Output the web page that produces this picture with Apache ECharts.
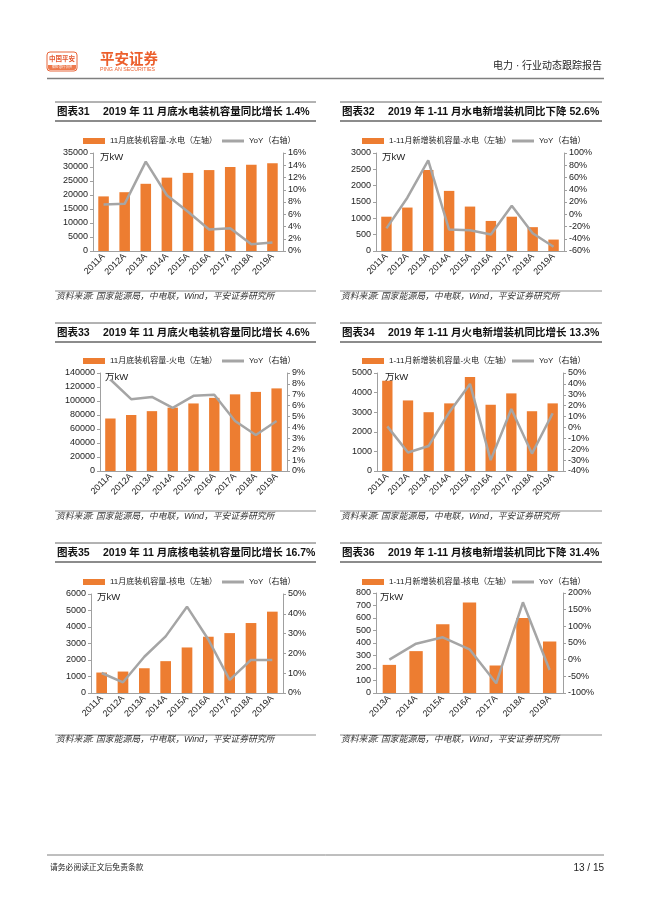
<!DOCTYPE html>
<html><head><meta charset="utf-8">
<script src="https://cdn.jsdelivr.net/npm/echarts@6/dist/echarts.min.js"></script>
<style>html,body{margin:0;padding:0;background:#fff;}#c{width:650px;height:919px;}</style>
</head><body><div id="c"></div>
<script>
// ---------- data ----------
const yearsA = ['2011A','2012A','2013A','2014A','2015A','2016A','2017A','2018A','2019A'];
const yearsB = ['2013A','2014A','2015A','2016A','2017A','2018A','2019A'];

const hydroCap    = [19500, 21000, 24000, 26200, 27900, 28900, 30000, 30800, 31300];
const hydroCapYoY = [7.6, 7.7, 14.6, 9.1, 6.4, 3.5, 3.7, 1.1, 1.4];
const hydroNew    = [1050, 1330, 2480, 1840, 1360, 920, 1050, 730, 350];
const hydroNewYoY = [-23, 27, 88, -25, -26, -33, 14, -31, -53];
const thermalCap    = [75000, 80000, 85500, 90500, 96500, 104500, 109500, 113000, 118000];
const thermalCapYoY = [8.4, 6.6, 6.8, 5.8, 6.9, 7.0, 4.6, 3.3, 4.6];
const thermalNew    = [4600, 3600, 3000, 3450, 4800, 3380, 3960, 3050, 3450];
const thermalNewYoY = [1, -23, -17, 14, 40, -30, 17, -24, 13];
const nuclearCap    = [1240, 1300, 1500, 1930, 2760, 3410, 3630, 4240, 4930];
const nuclearCapYoY = [10.1, 5.4, 18.3, 28.6, 43.6, 27, 6.6, 16.7, 16.7];
const nuclearNew    = [225, 335, 550, 725, 220, 600, 412];
const nuclearNewYoY = [0, 48, 67, 31, -71, 172, -31];

const lineName = 'YoY（右轴）';
const sourceText = '资料来源: 国家能源局，中电联，Wind，平安证券研究所';

// ---------- layout ----------
const FONT = '"Liberation Sans", Arial, "Noto Sans CJK SC", sans-serif';
const ORANGE = '#ED7D31', GREY = '#A5A5A5', AXIS = '#A0A0A0';

const rows = [
  {titleY:112, lineTop:102, lineBot:121, srcLine:291, srcText:297},
  {titleY:333, lineTop:323, lineBot:342, srcLine:511, srcText:517},
  {titleY:553, lineTop:543, lineBot:562, srcLine:735, srcText:740}
];
const cols = [
  {x1:55, x2:316, numX:57, titleX:103, legA:83, legB:222},
  {x1:340, x2:602, numX:342, titleX:388, legA:362, legB:512}
];

const panels = [
  {row:0, col:0, cats:yearsA, bar:hydroCap, line:hydroCapYoY, barName:'11月底装机容量-水电（左轴）',
   num:'图表31', title:'2019 年 11 月底水电装机容量同比增长 1.4%',
   grid:{left:93, top:153, width:190, height:98}, yL:[0,35000,5000], yR:[0,16,2], legY:137, unit:[100,157]},
  {row:0, col:1, cats:yearsA, bar:hydroNew, line:hydroNewYoY, barName:'1-11月新增装机容量-水电（左轴）',
   num:'图表32', title:'2019 年 1-11 月水电新增装机同比下降 52.6%',
   grid:{left:376, top:153, width:188, height:98}, yL:[0,3000,500], yR:[-60,100,20], legY:137, unit:[382,157]},
  {row:1, col:0, cats:yearsA, bar:thermalCap, line:thermalCapYoY, barName:'11月底装机容量-火电（左轴）',
   num:'图表33', title:'2019 年 11 月底火电装机容量同比增长 4.6%',
   grid:{left:100, top:373, width:187, height:98}, yL:[0,140000,20000], yR:[0,9,1], legY:357, unit:[105,377]},
  {row:1, col:1, cats:yearsA, bar:thermalNew, line:thermalNewYoY, barName:'1-11月新增装机容量-火电（左轴）',
   num:'图表34', title:'2019 年 1-11 月火电新增装机同比增长 13.3%',
   grid:{left:377, top:373, width:186, height:98}, yL:[0,5000,1000], yR:[-40,50,10], legY:357, unit:[385,377]},
  {row:2, col:0, cats:yearsA, bar:nuclearCap, line:nuclearCapYoY, barName:'11月底装机容量-核电（左轴）',
   num:'图表35', title:'2019 年 11 月底核电装机容量同比增长 16.7%',
   grid:{left:91, top:594, width:192, height:99}, yL:[0,6000,1000], yR:[0,50,10], legY:578, unit:[97,597]},
  {row:2, col:1, cats:yearsB, bar:nuclearNew, line:nuclearNewYoY, barName:'1-11月新增装机容量-核电（左轴）',
   num:'图表36', title:'2019 年 1-11 月核电新增装机同比下降 31.4%',
   grid:{left:376, top:593, width:187, height:100}, yL:[0,800,100], yR:[-100,200,50], legY:578, unit:[380,597]}
];

const grid = [], xAxis = [], yAxis = [], series = [], legend = [], graphic = [];

function txt(x, y, text, font, fill, align) {
  graphic.push({type:'text', silent:true, style:{x, y, text, font, fill, align: align||'left', verticalAlign:'middle'}});
}
function hline(x1, x2, y, stroke, w) {
  graphic.push({type:'line', silent:true, shape:{x1, y1:y, x2, y2:y}, style:{stroke, lineWidth:w}});
}

panels.forEach((p, i) => {
  const r = rows[p.row], c = cols[p.col];
  grid.push(Object.assign({containLabel:false}, p.grid));
  xAxis.push({type:'category', gridIndex:i, data:p.cats,
    axisLine:{show:true, lineStyle:{color:AXIS, width:1}}, axisTick:{show:false},
    axisLabel:{rotate:45, fontSize:9, color:'#222', fontFamily:FONT, margin:4, interval:0}});
  yAxis.push({type:'value', gridIndex:i, position:'left', min:p.yL[0], max:p.yL[1], interval:p.yL[2],
    splitLine:{show:false}, axisLine:{show:true, lineStyle:{color:AXIS}},
    axisTick:{show:true, length:3, lineStyle:{color:AXIS}},
    axisLabel:{fontSize:9, color:'#222', fontFamily:FONT, margin:5, formatter: v => String(v)}});
  yAxis.push({type:'value', gridIndex:i, position:'right', min:p.yR[0], max:p.yR[1], interval:p.yR[2],
    splitLine:{show:false}, axisLine:{show:true, lineStyle:{color:AXIS}},
    axisTick:{show:true, length:3, lineStyle:{color:AXIS}},
    axisLabel:{fontSize:9, color:'#222', fontFamily:FONT, margin:5, formatter: v => v + '%'}});
  series.push({type:'bar', name:p.barName, xAxisIndex:i, yAxisIndex:2*i, data:p.bar,
    barWidth:'50%', itemStyle:{color:ORANGE}, silent:true, animation:false});
  series.push({type:'line', name:lineName, xAxisIndex:i, yAxisIndex:2*i+1, data:p.line,
    symbol:'none', lineStyle:{color:GREY, width:2.5}, itemStyle:{color:GREY}, silent:true, animation:false});
  legend.push({data:[{name:p.barName, icon:'rect'}], left:c.legA, top:p.legY, padding:0, itemWidth:22, itemHeight:6,
    selectedMode:false, textStyle:{fontSize:8, color:'#222', fontFamily:FONT}});
  legend.push({data:[{name:lineName, icon:'rect', itemStyle:{color:GREY}}], left:c.legB, top:p.legY, padding:0,
    itemWidth:22, itemHeight:3, selectedMode:false, textStyle:{fontSize:8, color:'#222', fontFamily:FONT}});

  // title block
  hline(c.x1, c.x2, r.lineTop, '#666', 1);
  hline(c.x1, c.x2, r.lineBot, '#8c8c8c', 2);
  txt(c.numX, r.titleY, p.num, 'bold 10.5px ' + FONT, '#111');
  txt(c.titleX, r.titleY, p.title, 'bold 10.5px ' + FONT, '#111');
  // unit
  txt(p.unit[0], p.unit[1], '万kW', '9.5px ' + FONT, '#222');
  // source
  hline(c.x1, c.x2, r.srcLine, '#8c8c8c', 1);
  txt(c.x1 + 1, r.srcText, sourceText, 'italic 8.8px ' + FONT, '#333');
});

// header
graphic.push({type:'rect', silent:true, shape:{x:47, y:52, width:30, height:19, r:3}, style:{fill:'#fff', stroke:'#E8663A', lineWidth:1}});
graphic.push({type:'rect', silent:true, shape:{x:48, y:65, width:28, height:5, r:[0,0,2,2]}, style:{fill:'#EE7A4D'}});
txt(62, 59, '中国平安', 'bold 6.5px ' + FONT, '#E4572E', 'center');
txt(62, 67.6, '保险·银行·投资', '3px ' + FONT, '#fff', 'center');
txt(100, 59.5, '平安证券', 'bold 14.5px ' + FONT, '#EC5F2C');
txt(100, 69.5, 'PING AN SECURITIES', '5.3px ' + FONT, '#EC5F2C');
txt(602, 66, '电力 · 行业动态跟踪报告', '10px ' + FONT, '#222', 'right');
hline(47, 604, 78.5, '#7f7f7f', 1.5);
// footer
hline(47, 604, 855, '#7f7f7f', 1);
txt(50, 868, '请务必阅读正文后免责条款', '7.8px ' + FONT, '#222');
txt(604, 868, '13 / 15', '10px ' + FONT, '#222', 'right');

const chart = echarts.init(document.getElementById('c'), null, {renderer:'canvas'});
chart.setOption({animation:false, backgroundColor:'#fff', grid, xAxis, yAxis, series, legend, graphic});
</script></body></html>
